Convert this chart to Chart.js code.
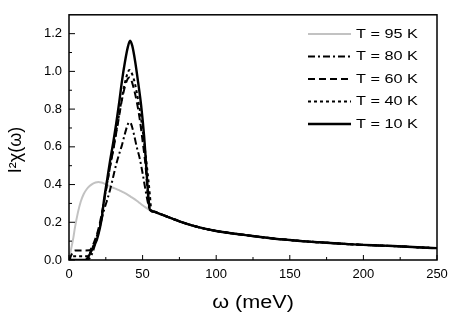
<!DOCTYPE html>
<html>
<head>
<meta charset="utf-8">
<script src="https://cdn.jsdelivr.net/npm/chart.js@4"></script>
<style>
  body { margin: 0; background: #fff; }
  #wrap { width: 463px; height: 318px; }
</style>
</head>
<body>
<div id="wrap"><canvas id="chi" width="463" height="318"></canvas></div>
<script>
// series labels
const labels = ["T = 95 K", "T = 80 K", "T = 60 K", "T = 40 K", "T = 10 K"];

// low-energy part of each curve (omega in meV)
const omega95 = [0, 1, 2, 3, 4, 6, 8, 10, 12, 14, 16, 18, 20, 22, 24, 26, 28, 30, 32, 34, 36, 38, 40, 42, 44, 46, 48, 50, 52, 55];
const chi95 = [0, 0.04, 0.08, 0.12, 0.17, 0.25, 0.31, 0.35, 0.375, 0.392, 0.404, 0.411, 0.414, 0.411, 0.405, 0.398, 0.39, 0.383, 0.377, 0.37, 0.362, 0.354, 0.345, 0.335, 0.325, 0.314, 0.302, 0.29, 0.279, 0.265];

const omega80 = [0, 12, 14, 16, 18, 20, 22, 24, 26, 28, 30, 32, 34, 36, 38, 40, 41, 42, 44, 46, 48, 50, 52, 54, 55];
const chi80 = [0, 0, 0.01, 0.04, 0.09, 0.145, 0.21, 0.27, 0.32, 0.375, 0.44, 0.505, 0.56, 0.61, 0.67, 0.72, 0.73, 0.725, 0.67, 0.6, 0.54, 0.46, 0.37, 0.29, 0.265];

const omega60 = [0, 3, 4, 14, 16, 18, 20, 22, 24, 26, 28, 30, 32, 34, 36, 38, 40, 41, 42, 44, 46, 48, 50, 52, 53, 54, 55];
const chi60 = [0, 0.045, 0.05, 0.052, 0.075, 0.115, 0.165, 0.235, 0.32, 0.41, 0.5, 0.58, 0.67, 0.76, 0.85, 0.92, 0.962, 0.968, 0.96, 0.91, 0.84, 0.75, 0.63, 0.5, 0.4, 0.31, 0.265];

const omega40 = [0, 2, 12, 14, 16, 18, 20, 22, 24, 26, 28, 30, 32, 34, 36, 38, 40, 41, 42, 44, 46, 48, 50, 52, 54, 55, 56];
const chi40 = [0, 0.02, 0.02, 0.035, 0.065, 0.105, 0.155, 0.225, 0.32, 0.41, 0.5, 0.585, 0.675, 0.77, 0.86, 0.94, 0.995, 1.008, 1.0, 0.96, 0.89, 0.8, 0.69, 0.56, 0.42, 0.34, 0.262];

const omega10 = [0, 11, 13, 15, 17, 19, 21, 22, 24, 26, 28, 30, 32, 34, 36, 38, 40, 41.5, 43, 45, 47, 49, 51, 52, 53, 54, 55];
const chi10 = [0, 0, 0.015, 0.045, 0.075, 0.11, 0.17, 0.21, 0.33, 0.43, 0.53, 0.62, 0.72, 0.83, 0.95, 1.05, 1.13, 1.163, 1.135, 1.05, 0.94, 0.82, 0.66, 0.55, 0.43, 0.33, 0.265];

// common high-energy tail
const omegaTail = [58, 60, 65, 70, 75, 80, 90, 100, 110, 120, 130, 140, 150, 160, 170, 180, 190, 200, 210, 220, 230, 240, 250];
const chiTail = [0.256, 0.25, 0.235, 0.22, 0.205, 0.192, 0.17, 0.154, 0.142, 0.132, 0.122, 0.113, 0.106, 0.099, 0.094, 0.089, 0.084, 0.08, 0.077, 0.074, 0.07, 0.066, 0.063];

const FONT = "'Liberation Sans', Arial, Helvetica, sans-serif";

function makePoints(om, chi) {
  const xs = om.concat(omegaTail);
  const ys = chi.concat(chiTail);
  return xs.map((x, i) => ({ x: x, y: ys[i] }));
}

function line(ctx, x1, y1, x2, y2) {
  ctx.beginPath();
  ctx.moveTo(x1, y1);
  ctx.lineTo(x2, y2);
  ctx.stroke();
}

// frame, inward ticks, axis titles and legend
const decorations = {
  id: 'decorations',
  afterDraw(chart) {
    const ctx = chart.ctx;
    const a = chart.chartArea;
    const x = chart.scales.x;
    const y = chart.scales.y;
    ctx.save();
    ctx.strokeStyle = '#000';
    ctx.lineWidth = 1;
    x.ticks.forEach((t, i) => {
      const px = x.getPixelForValue(t.value);
      line(ctx, px, a.bottom, px, a.bottom - 5);
      if (i < x.ticks.length - 1) {
        const m = x.getPixelForValue((t.value + x.ticks[i + 1].value) / 2);
        line(ctx, m, a.bottom, m, a.bottom - 3);
      }
    });
    y.ticks.forEach((t, i) => {
      const py = y.getPixelForValue(t.value);
      line(ctx, a.left, py, a.left + 6, py);
      if (i < y.ticks.length - 1) {
        const m = y.getPixelForValue((t.value + y.ticks[i + 1].value) / 2);
        line(ctx, a.left, m, a.left + 3, m);
      }
    });
    ctx.lineWidth = 1.5;
    ctx.strokeRect(a.left, a.top, a.right - a.left, a.bottom - a.top);

    // axis titles
    ctx.fillStyle = '#000';
    ctx.textAlign = 'center';
    ctx.textBaseline = 'middle';
    ctx.font = '18px ' + FONT;
    ctx.save();
    ctx.translate(253, 303);
    ctx.scale(1.2, 1);
    ctx.fillText('\u03c9 (meV)', 0, 0);
    ctx.restore();
    ctx.save();
    ctx.translate(16, 150);
    ctx.rotate(-Math.PI / 2);
    ctx.fillText('I\u00b2\u03c7(\u03c9)', 0, 0);
    ctx.restore();

    // legend
    ctx.font = '13px ' + FONT;
    ctx.textAlign = 'left';
    chart.data.datasets.forEach((ds, i) => {
      const ly = 34 + i * 22.5;
      ctx.strokeStyle = ds.borderColor;
      ctx.lineWidth = ds.borderWidth;
      ctx.setLineDash(ds.borderDash || []);
      line(ctx, 308, ly, 351, ly);
      ctx.setLineDash([]);
      ctx.save();
      ctx.translate(356, ly);
      ctx.scale(1.25, 1);
      ctx.fillText(ds.label, 0, 0);
      ctx.restore();
    });
    ctx.restore();
  }
};

const styles = [
  { color: '#c2c2c2', dash: [], width: 2 },
  { color: '#000', dash: [7, 3, 2, 3], width: 2 },
  { color: '#000', dash: [7, 4], width: 2 },
  { color: '#000', dash: [3, 3], width: 2 },
  { color: '#000', dash: [], width: 2.4 }
];
const pointSets = [
  makePoints(omega95, chi95),
  makePoints(omega80, chi80),
  makePoints(omega60, chi60),
  makePoints(omega40, chi40),
  makePoints(omega10, chi10)
];

// higher order is drawn first, so the 10 K curve ends up on top
const datasets = labels.map((label, i) => ({
  label: label,
  data: pointSets[i],
  order: labels.length - i,
  borderColor: styles[i].color,
  borderDash: styles[i].dash,
  borderWidth: styles[i].width,
  pointRadius: 0,
  fill: false,
  cubicInterpolationMode: 'monotone'
}));

new Chart(document.getElementById('chi'), {
  type: 'line',
  data: { datasets: datasets },
  options: {
    responsive: false,
    animation: false,
    layout: { padding: { top: 6, right: 26, left: 0, bottom: 0 } },
    plugins: {
      legend: { display: false },
      tooltip: { enabled: false }
    },
    scales: {
      x: {
        type: 'linear',
        min: 0,
        max: 250,
        grid: { display: false, drawTicks: false },
        border: { display: false },
        ticks: {
          stepSize: 50,
          padding: 7,
          color: '#000',
          font: { family: FONT, size: 13 }
        },
        afterFit(scale) { scale.height = 58; }
      },
      y: {
        min: 0,
        max: 1.3,
        grid: { display: false, drawTicks: false },
        border: { display: false },
        ticks: {
          stepSize: 0.2,
          includeBounds: false,
          padding: 7,
          color: '#000',
          font: { family: FONT, size: 13 },
          callback: v => v.toFixed(1)
        },
        afterFit(scale) { scale.width = 69; }
      }
    }
  },
  plugins: [decorations]
});
</script>
</body>
</html>
